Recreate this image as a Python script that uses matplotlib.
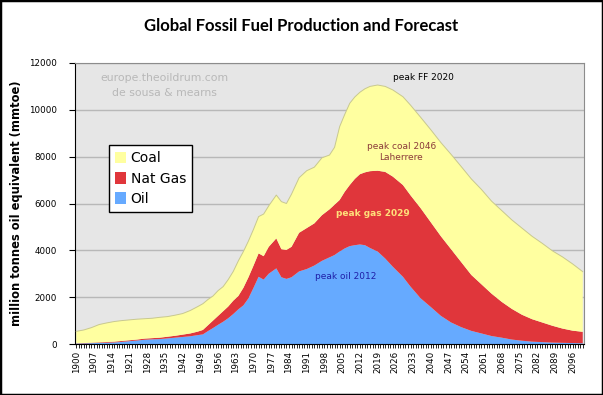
import matplotlib

matplotlib.use("Agg")
import matplotlib.pyplot as plt
from matplotlib.patches import Patch, Rectangle
from matplotlib.ticker import MultipleLocator
import numpy as np

# values (mtoe)
years = [1900, 1903, 1906, 1909, 1912, 1915, 1918, 1921, 1924, 1927, 1930, 1933,
         1936, 1939, 1942, 1945, 1948, 1950, 1952, 1954, 1956, 1958, 1960, 1962,
         1964, 1966, 1968, 1970, 1972, 1974, 1976, 1979, 1981, 1983, 1985, 1988,
         1991, 1994, 1997, 2000, 2002, 2004, 2006, 2008, 2010, 2012, 2014, 2016,
         2019, 2022, 2025, 2029, 2032, 2036, 2040, 2044, 2048, 2052, 2056, 2060,
         2064, 2068, 2072, 2076, 2080, 2084, 2088, 2092, 2096, 2100]
oil = [20, 25, 35, 45, 55, 65, 90, 120, 150, 180, 200, 210,
       240, 270, 300, 330, 380, 410, 550, 680, 820, 950, 1100, 1280,
       1480, 1650, 1950, 2400, 2870, 2750, 3000, 3230, 2850, 2780, 2850, 3100,
       3200, 3350, 3550, 3700, 3800, 3950, 4080, 4180, 4220, 4250, 4220, 4100,
       3950, 3650, 3300, 2870, 2450, 1950, 1580, 1200, 920, 720, 560, 450,
       340, 270, 190, 140, 100, 80, 60, 50, 40, 30]
gas = [10, 15, 20, 25, 30, 35, 40, 40, 40, 50, 50, 60,
       70, 80, 100, 120, 150, 190, 250, 320, 380, 450, 500, 570,
       570, 750, 900, 950, 1000, 1000, 1150, 1280, 1200, 1240, 1300, 1650,
       1750, 1800, 1950, 2050, 2150, 2200, 2420, 2610, 2830, 3000, 3110, 3280,
       3450, 3700, 3850, 3920, 3900, 3850, 3620, 3400, 3130, 2780, 2390, 2100,
       1810, 1530, 1310, 1110, 960, 840, 720, 610, 530, 490]
coal = [510, 560, 645, 760, 815, 860, 870, 870, 870, 850, 850, 870,
        860, 880, 900, 980, 1070, 1120, 1100, 1050, 1080, 1050, 1150, 1250,
        1500, 1550, 1550, 1550, 1570, 1800, 1750, 1850, 2030, 1980, 2250, 2350,
        2450, 2400, 2450, 2320, 2450, 3130, 3300, 3490, 3500, 3500, 3570, 3620,
        3660, 3650, 3700, 3770, 3850, 3880, 3950, 4000, 4050, 4080, 4100, 4050,
        3950, 3900, 3800, 3700, 3540, 3380, 3200, 3060, 2850, 2570]

tick_years = list(range(1900, 2100, 7))

c_oil, c_gas, c_coal = "#66aaff", "#e0363b", "#ffffa0"

fig = plt.figure(figsize=(6.03, 3.95), dpi=100)
ax = fig.add_axes([75 / 603, 51 / 395, 509 / 603, 281 / 395])
ax.set_facecolor("#e6e6e6")

ax.stackplot(years, oil, gas, coal, colors=[c_oil, c_gas, c_coal], lw=0, zorder=2)
total = np.array(oil) + np.array(gas) + np.array(coal)
ax.plot(years, total, color="#c8c890", lw=0.7, zorder=3)

ax.set_xlim(1899.5, 2100.5)
ax.set_ylim(0, 12000)
ax.yaxis.set_major_locator(MultipleLocator(2000))
ax.grid(axis="y", color="#b8b8b8", lw=1, zorder=1)
ax.set_axisbelow(True)
ax.set_xticks(tick_years)
ax.set_xticklabels([str(y) for y in tick_years], rotation=90, fontsize=6.3)
ax.xaxis.set_minor_locator(MultipleLocator(1))
ax.tick_params(axis="x", which="both", length=3, width=0.6, pad=2)
ax.tick_params(axis="y", length=4, width=0.8, labelsize=6.3, pad=9)
for s in ("top", "right"):
    ax.spines[s].set_color("#8c8c8c")
for s in ("left", "bottom"):
    ax.spines[s].set_color("black")

ax.set_ylabel("million tonnes oil equivalent (mmtoe)", fontsize=8.3, fontweight="bold",
              labelpad=4)

fig.text(0.5, 0.933, "Global Fossil Fuel Production and Forecast", ha="center",
         va="center", fontsize=12, fontweight="bold", family="Lato")

ax.text(1935, 11360, "europe.theoildrum.com", ha="center", va="center", fontsize=7.8,
        color="#b8b8b8")
ax.text(1935, 10720, "de sousa & mearns", ha="center", va="center", fontsize=7.8,
        color="#b8b8b8")

ax.text(2036.9, 11400, "peak FF 2020", ha="center", va="center", fontsize=6.5,
        color="black", zorder=4)
ax.text(2028.3, 8200, "peak coal 2046\nLaherrere", ha="center", va="center",
        fontsize=6.5, color="#8b3a3a", linespacing=1.2, zorder=4)
ax.text(2017.1, 5590, "peak gas 2029", ha="center", va="center", fontsize=6.5,
        color="#ffe07a", fontweight="bold", zorder=4)
ax.text(2006.5, 2900, "peak oil 2012", ha="center", va="center", fontsize=6.5,
        color="#1f1fa8", zorder=4)

handles = [Patch(facecolor=c_coal, label="Coal"), Patch(facecolor=c_gas, label="Nat Gas"),
           Patch(facecolor=c_oil, label="Oil")]
leg = ax.legend(handles=handles, loc="upper left", bbox_to_anchor=(0.067, 0.708),
                fontsize=10, frameon=True, fancybox=False, framealpha=1,
                edgecolor="black", handlelength=0.8, handleheight=0.9,
                handletextpad=0.3, borderpad=0.45, labelspacing=0.45,
                borderaxespad=0)
leg.get_frame().set_linewidth(1)

fig.patches.append(Rectangle((0, 0), 1, 1, transform=fig.transFigure, fill=False,
                             edgecolor="black", lw=2.5))

fig.savefig("out.png", dpi=100)
